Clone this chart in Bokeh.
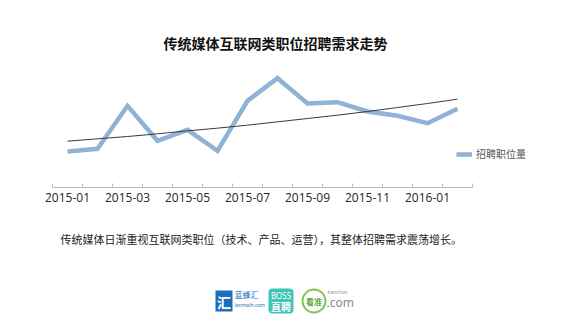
from bokeh.plotting import figure
from bokeh.models import Range1d, FixedTicker, Label, Legend, LegendItem
from bokeh.layouts import column
from bokeh.embed import file_html
from bokeh.resources import INLINE
from bokeh.core.properties import value

months = ["2015-01", "2015-02", "2015-03", "2015-04", "2015-05", "2015-06", "2015-07",
          "2015-08", "2015-09", "2015-10", "2015-11", "2015-12", "2016-01", "2016-02"]
demand = [108, 116, 245, 140, 173, 110, 260, 328, 252, 256, 228, 215, 193, 236]
trend = [139, 146, 153, 161, 170, 178, 187, 197, 207, 217, 228, 240, 252, 265]
series_name = "招聘职位量"
title_text = "传统媒体互联网类职位招聘需求走势"
caption_text = "传统媒体日渐重视互联网类职位（技术、产品、运营），其整体招聘需求震荡增长。"

xs = list(range(len(months)))

W = 561
H1 = 212          # main figure height
FB = 187          # axis line (frame bottom) in px
BAND = 30.0       # px per month
X0 = 52           # left end of axis in px
x_start = -0.5 - X0 / BAND
p = figure(width=W, height=H1, output_backend="svg", toolbar_location=None,
           x_range=Range1d(x_start, x_start + W / BAND), y_range=Range1d(0, FB * 3),
           y_axis_location=None, min_border_left=0, min_border_right=0,
           min_border_top=0, min_border_bottom=H1 - FB)
p.outline_line_color = None
p.xgrid.visible = False
p.ygrid.visible = False

def py(Y):
    return (FB - Y) * 3.0

def px(X):
    return x_start + X / BAND

r_main = p.line(xs, demand, line_width=4.5, line_color="#8fb2d5", line_join="miter")
p.line(xs, trend, line_width=1, line_color="#3a3a3a")

ax = p.xaxis[0]
ax.bounds = (-0.5, len(months) - 0.5)
ax.ticker = FixedTicker(ticks=[i for i in xs if i % 2 == 0],
                        minor_ticks=[i - 0.5 for i in range(len(months) + 1)])
ax.major_label_overrides = {i: months[i] for i in xs if i % 2 == 0}
ax.axis_line_color = "#bcbcbc"
ax.minor_tick_line_color = "#bcbcbc"
ax.minor_tick_in = 4
ax.minor_tick_out = 0
ax.major_tick_in = 0
ax.major_tick_out = 0
ax.major_label_standoff = 5
ax.major_label_text_font = "Open Sans"
ax.major_label_text_font_size = "12px"
ax.major_label_text_color = "#262626"

legend = Legend(items=[LegendItem(label=series_name, renderers=[r_main])],
                location=(456, 26), padding=0, margin=0, spacing=0,
                glyph_width=16, glyph_height=12, label_height=12, label_standoff=4,
                label_text_font="Noto Sans CJK SC", label_text_font_size="10px",
                label_text_color="#555555", border_line_color=None,
                background_fill_alpha=0)
p.add_layout(legend, "center")

p.add_layout(Label(x=px(275), y=py(42), text=title_text, text_align="center",
                   text_baseline="middle", text_font="Noto Sans CJK SC",
                   text_font_style="bold", text_font_size="14px", text_color="#111111"))

# caption + logo strip (pixel coordinates, y downwards)
H2 = 318 - H1
q = figure(width=W, height=H2, output_backend="svg", toolbar_location=None,
           x_range=Range1d(0, W), y_range=Range1d(318, H1),
           x_axis_location=None, y_axis_location=None,
           min_border_left=0, min_border_right=0,
           min_border_top=0, min_border_bottom=0)
q.outline_line_color = None
q.xgrid.visible = False
q.ygrid.visible = False

q.text(x=[60], y=[238], text=[caption_text], text_align="left", text_baseline="middle",
       text_font=value("Noto Sans CJK SC"), text_font_size="11px", text_color="#222222")

q.rect(x=[223.5], y=[300.5], width=17, height=21, fill_color="#1a6fbd", line_color=None)
q.text(x=[223.5], y=[301], text=["汇"], text_align="center", text_baseline="middle",
       text_color="white", text_font=value("Noto Sans CJK SC"), text_font_style="bold",
       text_font_size="14px")
q.text(x=[234], y=[294], text=["蓝蜂汇"], text_align="left", text_baseline="middle",
       text_color="#1a6fbd", text_font=value("Noto Sans CJK SC"), text_font_size="8px")
q.text(x=[234], y=[304], text=["lanmaih.com"], text_align="left", text_baseline="middle",
       text_color="#1a6fbd", text_font=value("Noto Sans"), text_font_size="5px")
q.rect(x=[280.5], y=[300.5], width=25, height=25, fill_color="#3fc4b8", line_color=None,
       border_radius=4)
q.text(x=[280.5], y=[295], text=["BOSS"], text_align="center", text_baseline="middle",
       text_color="white", text_font=value("Noto Sans"), text_font_size="8px")
q.text(x=[280.5], y=[306], text=["直聘"], text_align="center", text_baseline="middle",
       text_color="white", text_font=value("Noto Sans CJK SC"), text_font_style="bold",
       text_font_size="10px")
q.scatter(x=[313.5], y=[300.5], size=23, marker="circle", fill_color="white",
          line_color="#86c45a", line_width=2)
q.text(x=[313.5], y=[301], text=["看准"], text_align="center", text_baseline="middle",
       text_color="#5aa832", text_font=value("Noto Sans CJK SC"), text_font_style="bold",
       text_font_size="8px")
q.text(x=[327], y=[291], text=["kanzhun"], text_align="left", text_baseline="middle",
       text_color="#999999", text_font=value("Noto Sans"), text_font_size="5px")
q.text(x=[326], y=[302], text=[".com"], text_align="left", text_baseline="middle",
       text_color="#8a8a8a", text_font=value("Noto Sans"), text_font_size="12px")

layout = column(p, q, spacing=0)
open("out.html", "w").write(file_html(layout, INLINE))
